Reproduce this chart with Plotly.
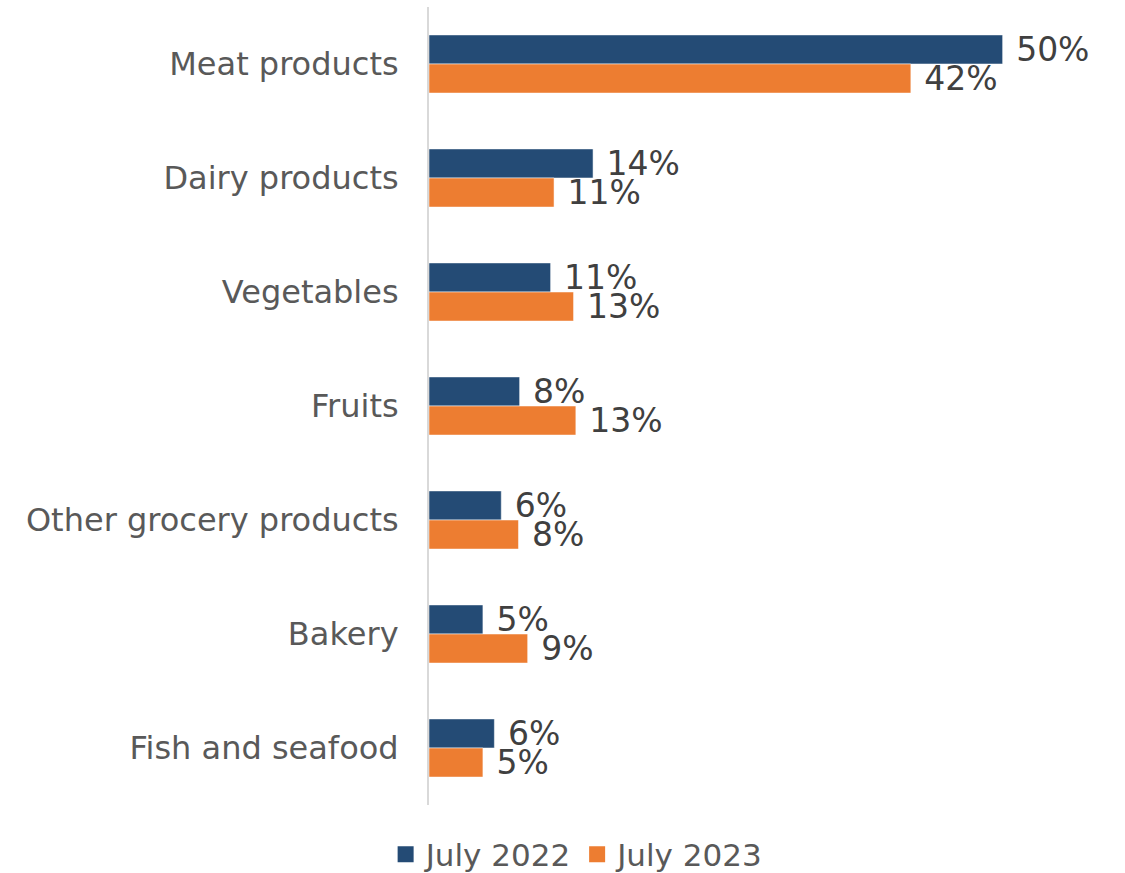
import plotly.graph_objects as go

# Share of purchases by product group
categories = ["Meat products", "Dairy products", "Vegetables", "Fruits",
              "Other grocery products", "Bakery", "Fish and seafood"]
july_2022 = [50.0, 14.3, 10.6, 7.9, 6.3, 4.7, 5.7]
july_2023 = [42.0, 10.9, 12.6, 12.8, 7.8, 8.6, 4.7]
series_names = ["July 2022", "July 2023"]

BLUE = "#244B75"
ORANGE = "#ED7D31"
FONT = "DejaVu Sans"

fig = go.Figure()
for name, vals, color in zip(series_names, [july_2022, july_2023], [BLUE, ORANGE]):
    fig.add_trace(go.Bar(
        y=categories, x=vals, name=name, orientation="h",
        marker=dict(color=color, line=dict(color="rgba(255,255,255,0.5)", width=1)),
        text=[f"\u00a0{v:.0f}%" for v in vals],
        textposition="outside", cliponaxis=False, constraintext="none",
        textfont=dict(family=FONT, size=33, color="#404040"),
        hoverinfo="skip", showlegend=False,
    ))

# legend entries with larger square swatches
for name, color in zip(series_names, [BLUE, ORANGE]):
    fig.add_trace(go.Scatter(
        x=[None], y=[None], mode="markers", name=name,
        marker=dict(symbol="square", size=16, color=color),
    ))

fig.update_layout(
    width=1125, height=873,
    margin=dict(l=429, r=65, t=7, b=68),
    barmode="group", bargap=0.49, bargroupgap=0,
    plot_bgcolor="white", paper_bgcolor="white",
    font=dict(family=FONT, color="#595959"),
    xaxis=dict(range=[0, 55], showticklabels=False, showgrid=False,
               zeroline=False, showline=False),
    yaxis=dict(categoryorder="array", categoryarray=categories,
               autorange="reversed", showline=True, linecolor="#D9D9D9",
               linewidth=2, ticks="", showgrid=False,
               ticklabelstandoff=22,
               tickfont=dict(family=FONT, size=32, color="#595959")),
    legend=dict(orientation="h", xref="container", yref="container",
                x=0.513, xanchor="center", y=0.021, yanchor="middle",
                font=dict(family=FONT, size=31, color="#595959"),
                itemwidth=30, traceorder="normal"),
    showlegend=True,
)

fig.write_html("out.html")
